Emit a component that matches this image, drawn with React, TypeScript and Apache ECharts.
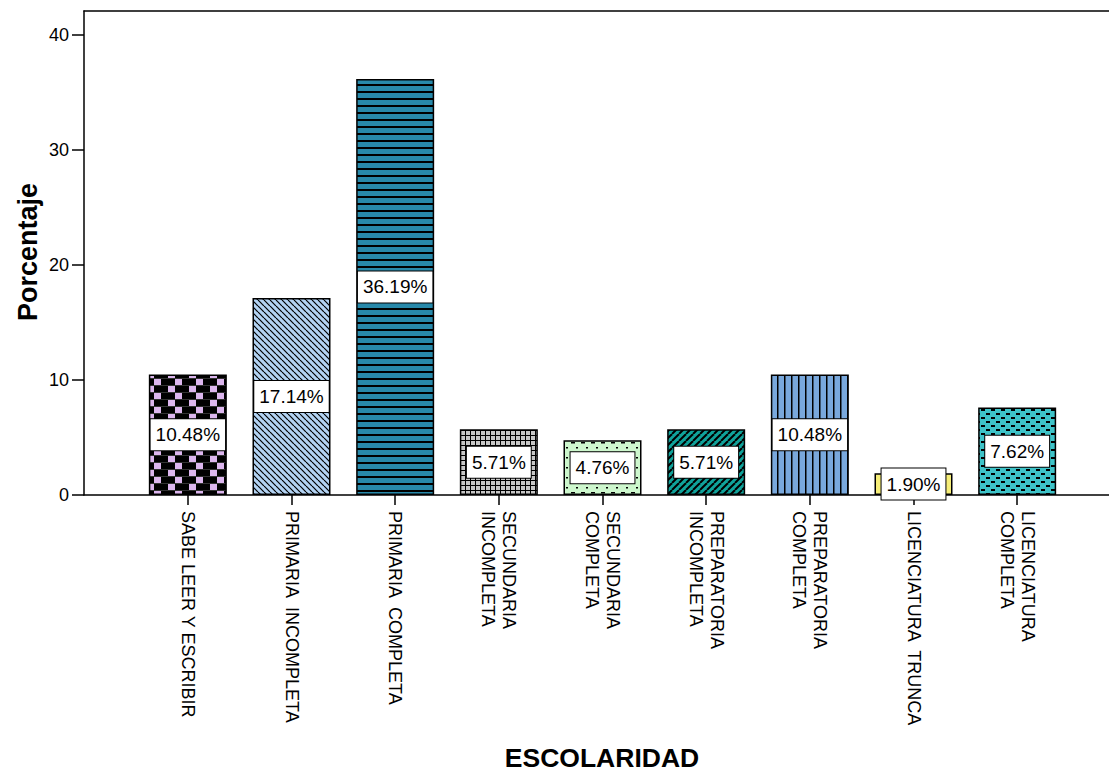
import React, { useEffect, useRef } from "react";
import * as echarts from "echarts";

const categories = [
  "SABE LEER Y ESCRIBIR",
  "PRIMARIA  INCOMPLETA",
  "PRIMARIA  COMPLETA",
  "SECUNDARIA\nINCOMPLETA",
  "SECUNDARIA\nCOMPLETA",
  "PREPARATORIA\nINCOMPLETA",
  "PREPARATORIA\nCOMPLETA",
  "LICENCIATURA  TRUNCA",
  "LICENCIATURA\nCOMPLETA",
];
const percentages = [10.48, 17.14, 36.19, 5.71, 4.76, 5.71, 10.48, 1.9, 7.62];
const yTicks = [0, 10, 20, 30, 40];
const yMax = 42.1;
const xTitle = "ESCOLARIDAD";
const yTitle = "Porcentaje";

const FONT = '"Liberation Sans", Arial, sans-serif';

function tile(w: number, h: number, draw: (c: CanvasRenderingContext2D) => void) {
  const cv = document.createElement("canvas");
  cv.width = w;
  cv.height = h;
  const ctx = cv.getContext("2d")!;
  draw(ctx);
  return { image: cv, repeat: "repeat", imageWidth: w, imageHeight: h } as any;
}

function makePatterns() {
  const p: any[] = [];
  // 1 checker black / lilac
  p.push(
    tile(21, 14, (c) => {
      c.fillStyle = "#000";
      c.fillRect(0, 0, 21, 14);
      c.fillStyle = "#dcb6ee";
      c.fillRect(7, 1, 7, 6);
      c.fillRect(0, 8, 7, 6);
      c.fillStyle = "#333";
      c.fillRect(0, 0, 21, 1);
      c.fillRect(0, 7, 21, 1);
    })
  );
  // 2 light blue with \\\ lines
  p.push(
    tile(6, 6, (c) => {
      c.fillStyle = "#b3d3f3";
      c.fillRect(0, 0, 6, 6);
      c.strokeStyle = "#000";
      c.lineWidth = 1.2;
      for (const o of [-6, 0, 6]) {
        c.beginPath();
        c.moveTo(o, 0);
        c.lineTo(o + 6, 6);
        c.stroke();
      }
    })
  );
  // 3 teal-blue with horizontal lines
  p.push(
    tile(8, 7, (c) => {
      c.fillStyle = "#2889aa";
      c.fillRect(0, 0, 8, 7);
      c.fillStyle = "#000";
      c.fillRect(0, 0, 8, 2);
    })
  );
  // 4 grey grid
  p.push(
    tile(5, 5, (c) => {
      c.fillStyle = "#c6c6c6";
      c.fillRect(0, 0, 5, 5);
      c.fillStyle = "#000";
      c.fillRect(0, 0, 5, 1);
      c.fillRect(0, 0, 1, 5);
    })
  );
  // 5 light green with dashes
  p.push(
    tile(10, 10, (c) => {
      c.fillStyle = "#cdf7cd";
      c.fillRect(0, 0, 10, 10);
      c.fillStyle = "#000";
      c.fillRect(1, 2, 4, 1.5);
      c.fillRect(6, 7, 2, 1.5);
    })
  );
  // 6 teal with /// lines
  p.push(
    tile(7, 7, (c) => {
      c.fillStyle = "#10a39b";
      c.fillRect(0, 0, 7, 7);
      c.strokeStyle = "#000";
      c.lineWidth = 2;
      for (const o of [-7, 0, 7]) {
        c.beginPath();
        c.moveTo(o, 7);
        c.lineTo(o + 7, 0);
        c.stroke();
      }
    })
  );
  // 7 steel blue with vertical lines
  p.push(
    tile(7, 8, (c) => {
      c.fillStyle = "#79a8dc";
      c.fillRect(0, 0, 7, 8);
      c.fillStyle = "#000";
      c.fillRect(0, 0, 1.5, 8);
    })
  );
  // 8 yellow plain
  p.push("#f6ee78");
  // 9 turquoise with dashes
  p.push(
    tile(10, 8, (c) => {
      c.fillStyle = "#3ec3c8";
      c.fillRect(0, 0, 10, 8);
      c.fillStyle = "#000";
      c.fillRect(1, 1, 4, 2);
      c.fillRect(6, 5, 4, 2);
    })
  );
  return p;
}

export default function App() {
  const ref = useRef<HTMLDivElement>(null);
  useEffect(() => {
    if (!ref.current) return;
    const chart = echarts.init(ref.current, undefined, { renderer: "svg" });
    const fills = makePatterns();
    const option: any = {
      animation: false,
      backgroundColor: "#fff",
      textStyle: { fontFamily: FONT },
      grid: [
        { left: 84, right: 0, top: 11, bottom: 279 },
        { left: 136, right: 40, top: 11, bottom: 279 },
      ],
      xAxis: [
        {
          gridIndex: 0,
          type: "value",
          min: 0,
          max: 1,
          position: "bottom",
          axisLine: { show: true, lineStyle: { color: "#000", width: 1.5 } },
          axisTick: { show: false },
          axisLabel: { show: false },
          splitLine: { show: false },
        },
        {
          gridIndex: 0,
          type: "value",
          min: 0,
          max: 1,
          position: "top",
          axisLine: { show: true, lineStyle: { color: "#000", width: 1.5 } },
          axisTick: { show: false },
          axisLabel: { show: false },
          splitLine: { show: false },
        },
        {
          gridIndex: 1,
          type: "category",
          data: categories,
          position: "bottom",
          axisLine: { show: false },
          axisTick: {
            show: true,
            alignWithLabel: true,
            length: 10,
            lineStyle: { color: "#000", width: 1.5 },
          },
          axisLabel: {
            rotate: -90,
            interval: 0,
            margin: 16,
            fontSize: 18,
            lineHeight: 21,
            color: "#000",
            fontFamily: FONT,
          },
          splitLine: { show: false },
        },
      ],
      yAxis: [
        {
          gridIndex: 0,
          type: "value",
          min: 0,
          max: yMax,
          axisLine: { show: true, lineStyle: { color: "#000", width: 1.5 } },
          axisTick: {
            show: true,
            length: 12,
            customValues: yTicks,
            lineStyle: { color: "#000", width: 1.5 },
          },
          axisLabel: {
            customValues: yTicks,
            margin: 15,
            fontSize: 18,
            color: "#000",
            fontFamily: FONT,
          },
          splitLine: { show: false },
        },
        {
          gridIndex: 1,
          type: "value",
          min: 0,
          max: yMax,
          show: false,
          splitLine: { show: false },
        },
      ],
      series: [
        {
          type: "bar",
          xAxisIndex: 2,
          yAxisIndex: 1,
          barWidth: 78,
          data: percentages.map((v, i) => ({
            value: v,
            itemStyle: { color: fills[i] },
          })),
          itemStyle: { borderColor: "#000", borderWidth: 1.5 },
          label: {
            show: true,
            position: "inside",
            formatter: (p: any) => p.value.toFixed(2) + "%",
            color: "#000",
            fontSize: 19,
            lineHeight: 21,
            fontFamily: FONT,
            backgroundColor: "#fff",
            borderColor: "#000",
            borderWidth: 1,
            padding: [6, 5, 4, 5],
          },
        },
      ],
      graphic: [
        {
          type: "text",
          x: 602,
          y: 758,
          style: {
            text: xTitle,
            font: `bold 26.5px ${FONT}`,
            fill: "#000",
            textAlign: "center",
            textVerticalAlign: "middle",
          },
        },
        {
          type: "text",
          x: 28,
          y: 252,
          rotation: Math.PI / 2,
          style: {
            text: yTitle,
            font: `bold 27px ${FONT}`,
            fill: "#000",
            textAlign: "center",
            textVerticalAlign: "middle",
          },
        },
      ],
    };
    chart.setOption(option);
    return () => chart.dispose();
  }, []);
  return (
    <div
      ref={ref}
      style={{ position: "fixed", left: 0, top: 0, width: 1109, height: 774 }}
    />
  );
}
